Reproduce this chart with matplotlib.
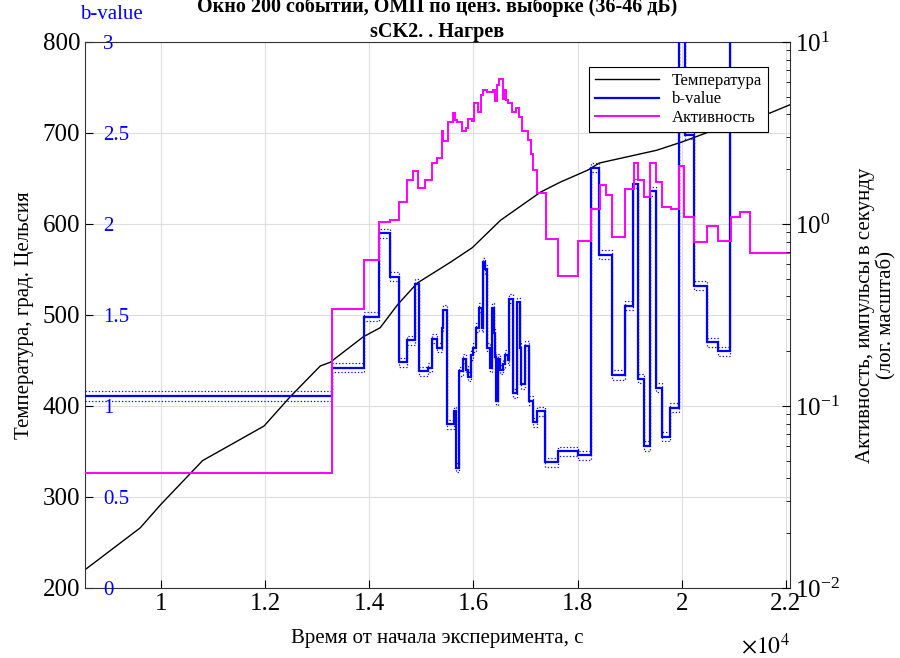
import numpy as np
import matplotlib
matplotlib.use('Agg')
import matplotlib.pyplot as plt
from matplotlib.lines import Line2D
from matplotlib.ticker import LogLocator, NullFormatter, FuncFormatter

plt.rcParams['font.family'] = ['Liberation Serif', 'DejaVu Serif']
plt.rcParams['mathtext.fontset'] = 'stix'

# Temperature curve (s, deg C)
temp_time = [8540, 9600, 10000, 10800, 11980, 12480, 13060, 13250, 13885, 14210,
             14540, 14920, 15560, 15980, 16520, 17290, 17670, 18190, 18420, 19520,
             20000, 20940, 21700, 22080]
temp_vals = [220, 266, 292, 340, 378, 410, 444, 448, 476, 486,
             511, 535, 558, 574, 604, 635, 646, 659, 667, 681,
             690, 710, 722, 731]

# b-value steps (edges in s)
b_edges = [8540, 13290, 13890, 14190, 14390, 14580, 14730, 14870, 14960, 15120,
           15210, 15310, 15390, 15420, 15500, 15620, 15670, 15730, 15810, 15850,
           15900, 15960, 16000, 16060, 16100, 16160, 16190, 16230, 16270, 16310,
           16350, 16390, 16410, 16440, 16480, 16520, 16560, 16600, 16660, 16690,
           16770, 16830, 16890, 16920, 17000, 17060, 17140, 17230, 17370, 17620,
           18000, 18250, 18420, 18670, 18910, 19060, 19160, 19270, 19390, 19500,
           19620, 19770, 19940, 20060, 20230, 20480, 20690, 20920, 22080]
b_vals = [1.055, 1.21, 1.49, 1.95, 1.71, 1.24, 1.36, 1.67, 1.19, 1.21,
          1.37, 1.32, 1.43, 1.53, 0.90, 0.97, 0.66, 1.19, 1.26, 1.20,
          1.16, 1.28, 1.32, 1.43, 1.54, 1.43, 1.79, 1.75, 1.32, 1.21,
          1.54, 1.40, 1.27, 1.03, 1.26, 1.20, 1.23, 1.28, 1.25, 1.59,
          1.07, 1.57, 1.32, 1.12, 1.33, 1.03, 0.91, 0.97, 0.69, 0.75,
          0.73, 2.31, 1.83, 1.17, 1.55, 2.22, 1.15, 0.78, 2.18, 1.10,
          0.83, 0.99, 3.5, 2.49, 1.66, 1.35, 1.30, 3.5]
b_ci = 0.025

# activity steps (pulses per second)
act_edges = [8540, 13290, 13890, 14190, 14390, 14580, 14730, 14850, 14940, 15080,
             15210, 15310, 15390, 15420, 15520, 15600, 15640, 15690, 15790, 15850,
             15900, 15980, 16020, 16080, 16140, 16190, 16270, 16370, 16420, 16460,
             16500, 16560, 16580, 16620, 16670, 16750, 16810, 16870, 16940, 17040,
             17100, 17140, 17230, 17390, 17620, 18000, 18250, 18440, 18540, 18670,
             18920, 19080, 19160, 19270, 19390, 19500, 19620, 19790, 19940, 20040,
             20230, 20480, 20690, 20940, 21120, 21310, 22080]
act_vals = [0.0429, 0.341, 0.634, 1.03, 1.05, 1.32, 1.75, 1.95, 1.58, 1.75,
            2.16, 2.31, 3.24, 2.86, 3.63, 4.07, 3.72, 3.63, 3.24, 3.37,
            3.78, 3.68, 4.62, 4.12, 5.12, 5.45, 5.31, 5.45, 4.74, 5.81,
            6.27, 4.86, 5.45, 4.80, 4.62, 4.12, 4.34, 3.87, 3.24, 2.90,
            2.43, 1.98, 1.48, 0.83, 0.52, 0.81, 1.21, 1.64, 1.44, 0.85,
            1.56, 2.16, 1.75, 1.41, 2.16, 1.70, 1.24, 1.21, 2.08, 1.09,
            0.80, 0.97, 0.81, 1.09, 1.16, 0.69]

x_ticks = [10000, 12000, 14000, 16000, 18000, 20000, 22000]

fig = plt.figure(figsize=(9, 6.58), dpi=100)
rect = [0.0944, 0.1064, 0.7833, 0.8298]

# temperature axes (bottom)
ax = fig.add_axes(rect)
ax.plot(temp_time, temp_vals, color='black', lw=1.0)
ax.set_xlim(8540, 22080)
ax.set_ylim(200, 800)
ax.set_xticks(x_ticks)
ax.xaxis.set_major_formatter(FuncFormatter(lambda v, p: f'{v / 1e4:g}'))
ax.set_yticks(range(200, 801, 100))
ax.tick_params(direction='in', labelsize=18, top=False, right=False, length=6)
ax.grid(True, color='#dedede', lw=0.8)
ax.set_xlabel('Время от начала эксперимента, с', fontsize=15, labelpad=10)
ax.set_ylabel('Температура, град. Цельсия', fontsize=15, labelpad=6)
ax.text(0.965, -0.105, r'$\times10^4$', transform=ax.transAxes,
        ha='center', va='center', fontsize=17)
ax.set_title('Окно 200 событий, ОМП по ценз. выборке (36-46 дБ)\nsCK2. . Нагрев',
             fontsize=14.5, fontweight='bold', pad=3, linespacing=1.3)
for s in ax.spines.values():
    s.set_color('#333333')

# b-value axes
ax_b = fig.add_axes(rect, frameon=False)
ax_b.stairs(b_vals, b_edges, baseline=None, color='blue', lw=1.6)
ax_b.stairs(np.array(b_vals) + b_ci, b_edges, baseline=None, color='blue', lw=0.9, ls=':')
ax_b.stairs(np.array(b_vals) - b_ci, b_edges, baseline=None, color='blue', lw=0.9, ls=':')
ax_b.set_xlim(ax.get_xlim())
ax_b.set_ylim(0, 3)
ax_b.xaxis.set_visible(False)
ax_b.set_yticks([0, 0.5, 1, 1.5, 2, 2.5, 3])
ax_b.set_yticklabels(['0', '0.5', '1', '1.5', '2', '2.5', '3'])
ax_b.tick_params(axis='y', length=0, pad=-13, labelsize=15, labelcolor='blue')
plt.setp(ax_b.get_yticklabels(), ha='left')
ax_b.set_ylabel('b-value', rotation=0, color='blue', fontsize=15, va='center')
ax_b.yaxis.set_label_coords(0.038, 1.05)

# activity axes (log, right)
ax_a = fig.add_axes(rect, frameon=False)
ax_a.stairs(act_vals, act_edges, baseline=None, color='#ff00ff', lw=1.4)
ax_a.set_xlim(ax.get_xlim())
ax_a.set_yscale('log')
ax_a.set_ylim(1e-2, 1e1)
ax_a.xaxis.set_visible(False)
ax_a.yaxis.tick_right()
ax_a.yaxis.set_label_position('right')
ax_a.yaxis.set_major_locator(LogLocator(base=10, numticks=10))
ax_a.yaxis.set_minor_locator(LogLocator(base=10, subs=np.arange(2, 10), numticks=10))
ax_a.yaxis.set_minor_formatter(NullFormatter())
ax_a.tick_params(axis='y', which='major', direction='in', length=6, labelsize=18)
ax_a.tick_params(axis='y', which='minor', direction='in', length=3)
ax_a.set_ylabel('Активность, импульсы в секунду\n(лог. масштаб)', fontsize=15,
                labelpad=12, linespacing=1.1)

handles = [Line2D([], [], color='black', lw=1.0),
           Line2D([], [], color='blue', lw=1.6),
           Line2D([], [], color='#ff00ff', lw=1.4)]
leg = ax_a.legend(handles, ['Температура', 'b-value', 'Активность'],
                  loc='upper right', bbox_to_anchor=(0.969, 0.954), fontsize=12,
                  fancybox=False, framealpha=1, edgecolor='black', borderaxespad=0,
                  handlelength=3.8, borderpad=0.35, labelspacing=0.15)
leg.get_frame().set_linewidth(0.8)

fig.savefig('out.png', dpi=100)
